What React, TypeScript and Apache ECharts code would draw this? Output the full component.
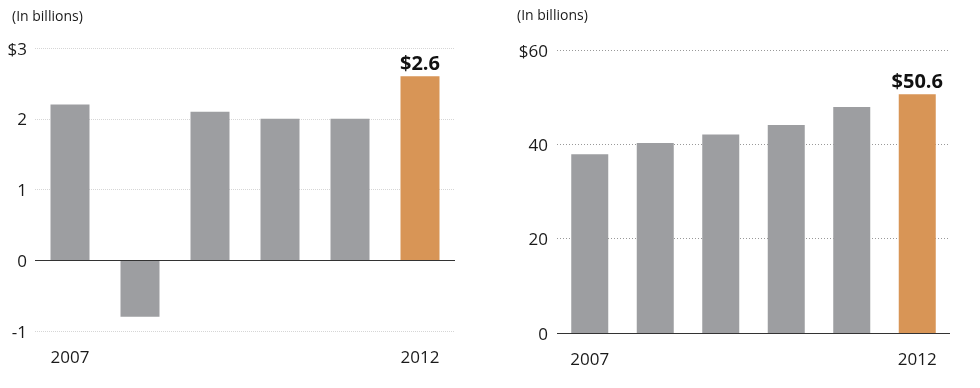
import React, { useEffect, useRef } from "react";
import * as echarts from "echarts";

const years = ["2007", "2008", "2009", "2010", "2011", "2012"];
const leftValues = [2.2, -0.8, 2.1, 2.0, 2.0, 2.6];
const rightValues = [37.9, 40.3, 42.1, 44.1, 47.9, 50.6];
const leftHighlight = "$2.6";
const rightHighlight = "$50.6";
const unitsLabel = "(In billions)";

const GRAY = "#9D9EA1";
const ORANGE = "#D89556";
const FONT = "'Open Sans', 'Liberation Sans', sans-serif";

export default function App() {
  const ref = useRef<HTMLDivElement>(null);
  useEffect(() => {
    if (!ref.current) return;
    const chart = echarts.init(ref.current, null, { renderer: "svg" });
    const last = years.length - 1;
    const barData = (vals: number[], lbl: string) =>
      vals.map((v, i) =>
        i === last
          ? {
              value: v,
              itemStyle: { color: ORANGE },
              label: {
                show: true,
                position: "top",
                distance: 4,
                formatter: lbl,
                fontFamily: FONT,
                fontWeight: "bold",
                fontSize: 20,
                color: "#111",
              },
            }
          : { value: v, itemStyle: { color: GRAY } }
      );
    const xAxisCommon = {
      type: "category",
      data: years,
      axisLine: { show: false },
      axisTick: { show: false },
      axisLabel: {
        interval: (i: number) => i === 0 || i === last,
        fontFamily: FONT,
        fontSize: 17,
        color: "#1a1a1a",
        margin: 17,
      },
    };
    const zeroLine = {
      silent: true,
      symbol: "none",
      label: { show: false },
      lineStyle: { color: "#333", width: 1.2, type: "solid" },
      data: [{ yAxis: 0 }],
    };
    chart.setOption({
      animation: false,
      textStyle: { fontFamily: FONT },
      graphic: [
        { type: "text", left: 12, top: 8, style: { text: unitsLabel, fontFamily: FONT, fontSize: 14, fill: "#1a1a1a" } },
        { type: "text", left: 517, top: 7, style: { text: unitsLabel, fontFamily: FONT, fontSize: 14, fill: "#1a1a1a" } },
      ],
      grid: [
        { left: 35, right: 525, top: 48, bottom: 57 },
        { left: 557, right: 30, top: 50, bottom: 55 },
      ],
      xAxis: [
        { ...xAxisCommon, gridIndex: 0 },
        { ...xAxisCommon, gridIndex: 1 },
      ],
      yAxis: [
        {
          type: "value",
          gridIndex: 0,
          min: -1,
          max: 3,
          interval: 1,
          axisLine: { show: false },
          axisTick: { show: false },
          axisLabel: {
            fontFamily: FONT,
            fontSize: 17,
            color: "#1a1a1a",
            margin: 8,
            formatter: (v: number) => (v === 3 ? "$3" : String(v)),
          },
          splitLine: { lineStyle: { color: "#d6d6d6", type: [1, 1], width: 1 } },
        },
        {
          type: "value",
          gridIndex: 1,
          min: 0,
          max: 60,
          interval: 20,
          axisLine: { show: false },
          axisTick: { show: false },
          axisLabel: {
            fontFamily: FONT,
            fontSize: 17,
            color: "#1a1a1a",
            margin: 9,
            formatter: (v: number) => (v === 60 ? "$60" : String(v)),
          },
          splitLine: { lineStyle: { color: "#999", type: [1, 2], width: 1 } },
        },
      ],
      series: [
        {
          type: "bar",
          xAxisIndex: 0,
          yAxisIndex: 0,
          barWidth: 39,
          data: barData(leftValues, leftHighlight),
          markLine: zeroLine,
        },
        {
          type: "bar",
          xAxisIndex: 1,
          yAxisIndex: 1,
          barWidth: 37,
          data: barData(rightValues, rightHighlight),
          markLine: zeroLine,
        },
      ],
    });
    return () => chart.dispose();
  }, []);
  return (
    <div
      ref={ref}
      style={{ position: "fixed", left: 0, top: 0, width: 980, height: 388 }}
    />
  );
}
